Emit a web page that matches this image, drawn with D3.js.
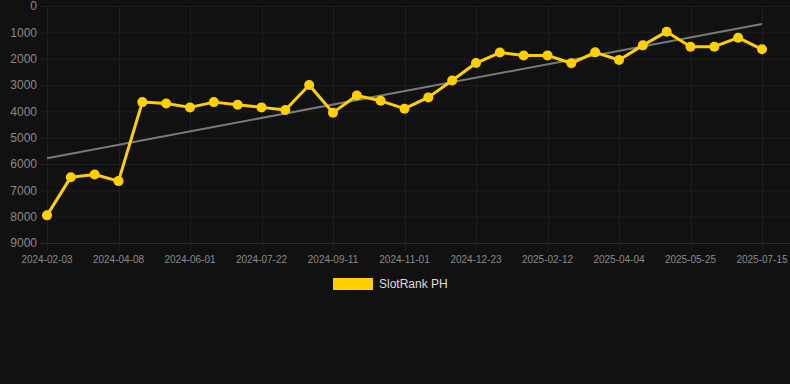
<!DOCTYPE html>
<html><head><meta charset="utf-8">
<script src="https://cdn.jsdelivr.net/npm/d3@7/dist/d3.min.js"></script>
<style>html,body{margin:0;padding:0;background:#111111;}svg{display:block;}</style>
</head><body>
<svg id="c" width="790" height="384"></svg>
<script>
const dates = ["2024-02-03","2024-02-25","2024-03-17","2024-04-08","2024-04-26","2024-05-14","2024-06-01","2024-06-18","2024-07-05","2024-07-22","2024-08-08","2024-08-25","2024-09-11","2024-09-28","2024-10-15","2024-11-01","2024-11-18","2024-12-05","2024-12-23","2025-01-09","2025-01-26","2025-02-12","2025-03-01","2025-03-18","2025-04-04","2025-04-21","2025-05-08","2025-05-25","2025-06-11","2025-06-28","2025-07-15"];
const ranks = [7950,6500,6400,6650,3650,3700,3850,3650,3750,3850,3950,3000,4050,3400,3600,3900,3470,2830,2165,1766,1880,1875,2175,1760,2050,1495,975,1545,1545,1203,1645];
const yTicks = [0,1000,2000,3000,4000,5000,6000,7000,8000,9000];
const seriesName = "SlotRank PH";

(function () {
const svg = d3.select("#c");
const pLeft = 40, pRight = 790, pTop = 6, pBottom = 243;
const x = d3.scalePoint().domain(dates).range([47, 762]);
const y = d3.scaleLinear().domain([0, 9000]).range([pTop, pBottom]);

// horizontal grid
svg.append("g").selectAll("line").data(yTicks).join("line")
  .attr("x1", pLeft).attr("x2", pRight)
  .attr("y1", d => y(d) + 0.5).attr("y2", d => y(d) + 0.5)
  .attr("stroke", d => d === 9000 ? "#2e2e2e" : "#1f1f1f").attr("stroke-width", 1);

// vertical grid at labeled ticks
const labeled = dates.filter((d, i) => i % 3 === 0);
svg.append("g").selectAll("line").data(labeled).join("line")
  .attr("x1", d => Math.round(x(d)) + 0.5).attr("x2", d => Math.round(x(d)) + 0.5)
  .attr("y1", pTop).attr("y2", pBottom + 8)
  .attr("stroke", "#1f1f1f").attr("stroke-width", 1);

// y labels
svg.append("g").selectAll("text").data(yTicks).join("text")
  .attr("x", 37).attr("y", d => y(d)).attr("dy", "0.35em")
  .attr("text-anchor", "end")
  .attr("font-family", "Liberation Sans, Arial, sans-serif").attr("font-size", 12)
  .attr("fill", "#8a8a8a").text(d => d);

// x labels
svg.append("g").selectAll("text").data(labeled).join("text")
  .attr("x", d => x(d)).attr("y", 263)
  .attr("text-anchor", "middle")
  .attr("font-family", "Liberation Sans, Arial, sans-serif").attr("font-size", 10)
  .attr("fill", "#8a8a8a").text(d => d);

// trend line (least squares)
const n = ranks.length;
const mx = d3.mean(ranks, (d, i) => i), my = d3.mean(ranks);
let sxy = 0, sxx = 0;
ranks.forEach((v, i) => { sxy += (i - mx) * (v - my); sxx += (i - mx) * (i - mx); });
const slope = sxy / sxx, icpt = my - slope * mx;
svg.append("line")
  .attr("x1", x(dates[0])).attr("y1", y(icpt))
  .attr("x2", x(dates[n - 1])).attr("y2", y(icpt + slope * (n - 1)))
  .attr("stroke", "#7a7a7a").attr("stroke-width", 2);

// series line
const line = d3.line().x((d, i) => x(dates[i])).y(d => y(d));
svg.append("path").datum(ranks).attr("d", line)
  .attr("fill", "none").attr("stroke", "#FFD000").attr("stroke-width", 3)
  .attr("stroke-linejoin", "round");
svg.append("g").selectAll("circle").data(ranks).join("circle")
  .attr("cx", (d, i) => x(dates[i])).attr("cy", d => y(d)).attr("r", 5)
  .attr("fill", "#FFD000");

// legend
svg.append("rect").attr("x", 333).attr("y", 278).attr("width", 40).attr("height", 12)
  .attr("fill", "#FFD000");
svg.append("text").attr("x", 379).attr("y", 284).attr("dy", "0.35em")
  .attr("font-family", "Liberation Sans, Arial, sans-serif").attr("font-size", 12)
  .attr("fill", "#dddddd").text(seriesName);
})();
</script>
</body></html>
